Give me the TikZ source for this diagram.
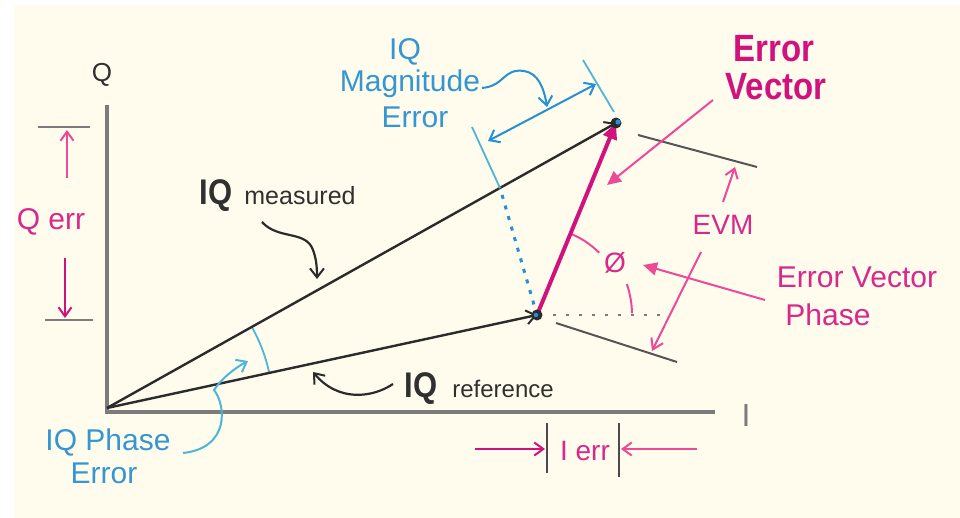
\documentclass[tikz,border=0pt]{standalone}
\usepackage{fontspec}
\setmainfont{Liberation Sans}
\usetikzlibrary{arrows.meta,calc}
\definecolor{cream}{HTML}{FFFCEE}
\definecolor{magc}{HTML}{D1127C}
\definecolor{pinkc}{HTML}{EC4A97}
\definecolor{bluec}{HTML}{2590D8}
\definecolor{cyanc}{HTML}{4DB6D6}
\definecolor{axgray}{HTML}{7B7B7B}
\definecolor{vblack}{HTML}{2B2B2B}
\definecolor{txtblack}{HTML}{303030}
\definecolor{bluetxt}{HTML}{3596D0}
\definecolor{pinktxt}{HTML}{D8288A}
\newcommand\fsz[1]{\fontsize{#1}{#1}\selectfont}
\newcommand\tallbox[1]{\scalebox{1}[1.15]{#1}}
\tikzset{
  vec/.style={draw=vblack, line width=2.4pt},
  axline/.style={draw=axgray, line width=3.2pt},
  tickline/.style={draw=axgray, line width=2.6pt},
  pinkl/.style={draw=pinkc, line width=2pt},
  bluel/.style={draw=bluec, line width=2pt},
  cyanl/.style={draw=cyanc, line width=1.8pt},
  lab/.style={inner sep=0pt, anchor=base},
  barb/.style={-{Straight Barb[length=9pt,width=14pt,line width=2pt]}},
  tri/.style={-{Triangle[length=14pt,width=13pt]}},
}
\begin{document}
\begin{tikzpicture}[x=1pt,y=-1pt]
\useasboundingbox (0,0) rectangle (960,518);
\fill[white] (0,0) rectangle (960,518);
\fill[cream] (14,5) rectangle (960,518);

% key points
\coordinate (O) at (107,408);
\coordinate (M) at (616,123);
\coordinate (R) at (537,315);
\coordinate (Qtop) at (107,105);
\coordinate (Corner) at (107,412);
\coordinate (Iend) at (715,412);

% axes
\draw[axline] (Qtop) -- (Corner) -- (Iend);
\node[lab, text=txtblack, font=\fsz{26}] (Qlab) at (102,82) {Q};
\node[lab, text=axgray, font=\fsz{32}] (Ilab) at (746,426) {I};

% IQ phase error arc (y axis is flipped: angles are negative)
\draw[cyanl] (O) ++(-29.2:166) coordinate (Pa) arc[start angle=-29.2, end angle=-12.2, radius=166] coordinate (Pb);

% vectors
\draw[vec, barb] (O) -- (M);
\draw[vec, barb] (O) -- (R);

% magnitude error construction
\coordinate (A) at (500,188);
\coordinate (W1) at (472,127);
\coordinate (W2a) at (614,112);
\coordinate (W2b) at (583,60);
\coordinate (D1) at (488,141);
\coordinate (D2) at (596,84);
\draw[bluec, line width=3pt, dash pattern=on 4pt off 7pt] (R) -- (A);
\draw[cyanl] (A) -- (W1);
\draw[cyanl] (W2a) -- (W2b);
\draw[bluel, {Straight Barb[length=9pt,width=14pt,line width=2pt]}-{Straight Barb[length=9pt,width=14pt,line width=2pt]}] (D1) -- (D2);

% EVM witness lines
\coordinate (E1a) at (638,135);
\coordinate (E1b) at (757,167);
\coordinate (E2a) at (556,323);
\coordinate (E2b) at (677,362);
\draw[draw=vblack!80, line width=2pt] (E1a) -- (E1b);
\draw[draw=vblack!80, line width=2pt] (E2a) -- (E2b);

% dotted horizontal at reference
\coordinate (H1) at (553,315);
\coordinate (H2) at (662,315);
\draw[draw=axgray, line width=2.4pt, dash pattern=on 3pt off 10pt] (H1) -- (H2);

% angle arc phi
\draw[pinkl] (R) ++(-67:88) arc[start angle=-67, end angle=-45, radius=88];
\draw[pinkl] (R) ++(-19:95) arc[start angle=-19, end angle=-1, radius=95];

% error vector
\draw[magc, line width=4pt, -{Triangle[length=16pt,width=14pt]}] (R) -- (M);

% dots
\fill[vblack] (M) circle (5.5);
\fill[bluec] ($(M)+(2,-1)$) circle (2.6);
\fill[vblack] (R) circle (5.5);
\fill[bluec] ($(R)+(-1,0)$) circle (2.2);

% texts: IQ Magnitude Error
\node[lab, text=bluetxt, font=\fsz{30}] (magIQ) at (405,60) {IQ};
\node[lab, text=bluetxt, font=\fsz{30}] (magMag) at (410,92) {Magnitude};
\node[lab, text=bluetxt, font=\fsz{30}] (magErr) at (415,128) {Error};
\coordinate (magS) at (482,88);
\coordinate (magT) at (547,107);
\draw[bluel, barb] (magS) .. controls (505,86) and (503,68) .. (524,71) .. controls (538,73) and (544,88) .. (magT);

% Error Vector label
\node[lab, text=magc, font=\fsz{33}\bfseries] (evErr) at (774,62) {\tallbox{Error}};
\node[lab, text=magc, font=\fsz{33}\bfseries] (evVec) at (776,100) {\tallbox{Vector}};
\coordinate (evS) at (713,100);
\coordinate (evT) at (607,185);
\draw[pinkl, tri] (evS) -- (evT);

% EVM
\node[lab, text=pinktxt, font=\fsz{28}] (evm) at (723,235) {EVM};
\coordinate (evmS1) at (723,202);
\coordinate (evmT1) at (735,167);
\draw[pinkl, -{Straight Barb[length=9pt,width=13pt,line width=2pt]}] (evmS1) -- (evmT1);
\coordinate (evmS2) at (701,252);
\coordinate (evmT2) at (652,351);
\draw[pinkl, -{Straight Barb[length=10pt,width=13pt,line width=2pt]}] (evmS2) -- (evmT2);

% Error Vector Phase
\node[lab, text=pinktxt, font=\fsz{30}] (evpA) at (857,288) {Error Vector};
\node[lab, text=pinktxt, font=\fsz{30}] (evpB) at (828,325) {Phase};
\coordinate (evpS) at (765,300);
\coordinate (evpT) at (643,265);
\draw[pinkl, tri] (evpS) -- (evpT);

% phi
\node[text=pinktxt, font=\fsz{28}, inner sep=0pt] (phi) at (615,263) {Ø};

% IQ measured
\node[lab, text=txtblack, font=\fsz{31}\bfseries] (mIQ) at (216,205) {\tallbox{IQ}};
\node[lab, text=txtblack, font=\fsz{25}] (mTxt) at (300,205) {measured};
\coordinate (mS) at (262,222);
\coordinate (mT) at (317,279);
\draw[vec, line width=2.2pt, barb] (mS) .. controls (278,240) and (306,230) .. (313,250) .. controls (316,258) and (317,266) .. (mT);

% IQ reference
\node[lab, text=txtblack, font=\fsz{31}\bfseries] (rIQ) at (421,397) {\tallbox{IQ}};
\node[lab, text=txtblack, font=\fsz{24}] (rTxt) at (503,397) {reference};
\coordinate (rS) at (393,384);
\coordinate (rT) at (313,372);
\draw[vec, line width=2.2pt, barb] (rS) .. controls (372,398) and (338,402) .. (rT);

% IQ Phase Error
\node[lab, text=bluetxt, font=\fsz{30}] (peA) at (108,450) {IQ Phase};
\node[lab, text=bluetxt, font=\fsz{30}] (peB) at (104,483) {Error};
\coordinate (peS) at (183,453);
\coordinate (peT) at (248,361);
\draw[cyanl, line width=2pt, barb] (peS) .. controls (230,448) and (226,405) .. (214,390) .. controls (222,378) and (235,368) .. (peT);

% Q err
\coordinate (qt1) at (38,127);
\coordinate (qt2) at (90,127);
\coordinate (qb1) at (45,320);
\coordinate (qb2) at (93,320);
\draw[tickline] (qt1) -- (qt2);
\draw[tickline] (qb1) -- (qb2);
\node[lab, text=pinktxt, font=\fsz{30}] (qerr) at (51,230) {Q err};
\coordinate (qaS) at (67,178);
\coordinate (qaT) at (67,130);
\draw[pinkl, line width=2.2pt, -{Straight Barb[length=9pt,width=13pt,line width=2pt]}] (qaS) -- (qaT);
\coordinate (qbS) at (65,258);
\coordinate (qbT) at (65,318);
\draw[magc, line width=2.2pt, -{Straight Barb[length=9pt,width=13pt,line width=2pt]}] (qbS) -- (qbT);

% I err
\coordinate (it1a) at (547,423);
\coordinate (it1b) at (547,473);
\coordinate (it2a) at (619,423);
\coordinate (it2b) at (619,477);
\draw[draw=vblack!85, line width=2.2pt] (it1a) -- (it1b);
\draw[draw=vblack!85, line width=2.2pt] (it2a) -- (it2b);
\node[lab, text=pinktxt, font=\fsz{28}] (ierr) at (585,460) {I err};
\coordinate (iaS) at (475,449);
\coordinate (iaT) at (545,449);
\draw[magc, line width=2.4pt, -{Straight Barb[length=9pt,width=13pt,line width=2pt]}] (iaS) -- (iaT);
\coordinate (ibS) at (697,449);
\coordinate (ibT) at (621,449);
\draw[pinkc, line width=2.4pt, -{Straight Barb[length=9pt,width=13pt,line width=2pt]}] (ibS) -- (ibT);
\end{tikzpicture}
\end{document}
